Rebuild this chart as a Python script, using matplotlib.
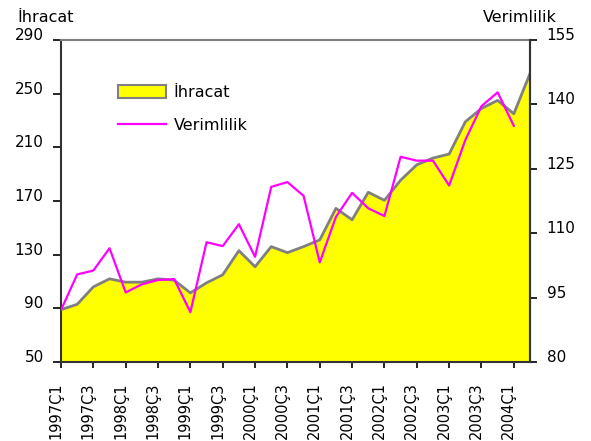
import matplotlib
matplotlib.use("Agg")
import matplotlib.pyplot as plt
import matplotlib.transforms as mtransforms
from matplotlib.patches import Patch
from matplotlib.lines import Line2D

quarters = [f"{y}Ç{q}" for y in range(1997, 2005) for q in range(1, 5)][:30]

ihracat = [89, 93, 106, 112, 109.5, 109.5, 112, 111, 101.5, 109,
           115, 133, 121, 136, 131.5, 136, 141, 164.5, 156, 176.5,
           170.5, 185.5, 197, 202, 205, 229, 239, 245, 235, 265]

verimlilik = [92.1, 100.4, 101.3, 106.5, 96.2, 98.1, 99.1, 99.3, 91.6, 107.9,
              107.0, 112.1, 104.5, 120.8, 121.9, 118.7, 103.2, 113.8, 119.4, 115.8,
              114.0, 127.8, 126.9, 126.9, 121.1, 131.7, 139.6, 142.8, 135.0]

left_ticks = [50, 90, 130, 170, 210, 250, 290]
right_ticks = [80, 95, 110, 125, 140, 155]

plt.rcParams['font.family'] = ['DejaVu Sans']

fig = plt.figure(figsize=(5.91, 4.41), dpi=100)
ax = fig.add_axes([61/591, 1 - 362/441, 469/591, 322/441])
x = list(range(len(ihracat)))
ax.fill_between(x, 50, ihracat, color='#FFFF00', zorder=1, linewidth=0)
ax.plot(x, ihracat, color='#808080', lw=2, zorder=2)
ax.set_xlim(0, len(ihracat) - 1)
ax.set_ylim(50, 290)
ax.set_yticks(left_ticks)
ax.set_xticks(x[::2])
ax.set_xticklabels(quarters[::2], rotation=90, fontsize=10.5)
ax.tick_params(axis='y', labelsize=11, length=6, width=1.2, direction='out', pad=6.5)
ax.tick_params(axis='x', length=4.5, width=1.2, direction='out', pad=10)
for s in ['left', 'bottom', 'right']:
    ax.spines[s].set_linewidth(1.5)
    ax.spines[s].set_color('#333333')
ax.spines['top'].set_color('#808080')
ax.spines['top'].set_linewidth(1.5)

offset = mtransforms.ScaledTranslation(-5/100, 0, fig.dpi_scale_trans)
for lbl in ax.get_xticklabels():
    lbl.set_transform(lbl.get_transform() + offset)
for lbl in ax.get_yticklabels():
    lbl.set_va('baseline')

ax2 = ax.twinx()
ax2.plot(x[:len(verimlilik)], verimlilik, color='#FF00FF', lw=1.6, zorder=3)
ax2.set_ylim(80, 155)
ax2.set_yticks(right_ticks)
ax2.tick_params(axis='y', labelsize=11, length=5, width=1.2, direction='out', pad=7)
ax2.spines['right'].set_linewidth(1.5)
ax2.spines['right'].set_color('#333333')
ax2.spines['top'].set_visible(False)
ax2.spines['left'].set_visible(False)
ax2.spines['bottom'].set_visible(False)
for lbl in ax2.get_yticklabels():
    lbl.set_va('baseline')

fig.text(17/591, 1 - 17/441, "İhracat", fontsize=11.5, va='center', ha='left')
fig.text(557/591, 1 - 17/441, "Verimlilik", fontsize=11.5, va='center', ha='right')

handles = [Patch(facecolor='#FFFF00', edgecolor='#808080', linewidth=1.5, label='İhracat'),
           Line2D([], [], color='#FF00FF', lw=1.6, label='Verimlilik')]
ax.legend(handles=handles, loc='upper left', bbox_to_anchor=(0.09, 0.905), frameon=False,
          fontsize=11.5, handlelength=3.0, handleheight=0.85, labelspacing=1.1, handletextpad=0.5)

fig.savefig("out.png", dpi=100)
